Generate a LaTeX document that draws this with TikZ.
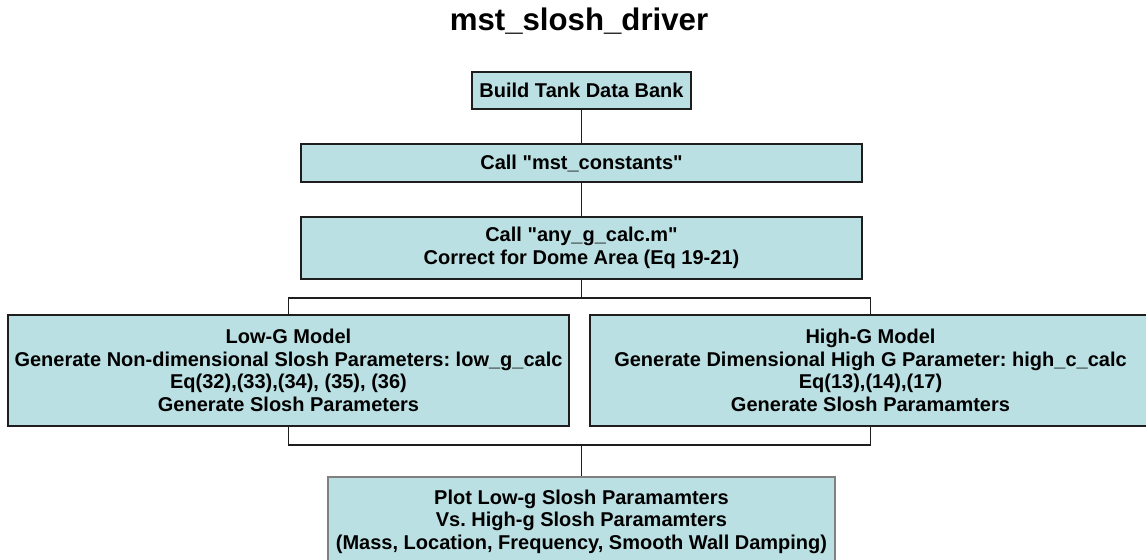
\documentclass[tikz,border=0pt]{standalone}
\usepackage{fontspec}
\setmainfont{Liberation Sans}[Ligatures=TeXOff]
\definecolor{boxfill}{RGB}{187,224,227}
\definecolor{boxline}{RGB}{30,30,30}
\definecolor{grayline}{RGB}{128,128,128}
\begin{document}
\frenchspacing
\begin{tikzpicture}[x=0.5pt,y=-0.5pt,
  procbox/.style={draw=boxline,line width=0.8pt,fill=boxfill,inner sep=0pt,align=center,
    font=\bfseries\fontsize{10}{11.25}\selectfont},
  conn/.style={draw=boxline,line width=0.7pt}]
\useasboundingbox (0,0) rectangle (1146,560);
\clip (0,0) rectangle (1146,560);
\node[font=\bfseries\fontsize{15.6}{18}\selectfont,anchor=base] (title) at (579,31) {mst\_slosh\_driver};
\node[procbox,minimum width=109.5pt,minimum height=18.5pt] (bank) at (581.5,90.5) {Build Tank Data Bank};
\node[procbox,minimum width=280.5pt,minimum height=19pt] (const) at (581.5,163) {Call "mst\_constants"};
\node[procbox,minimum width=280.5pt,minimum height=31pt] (anyg) at (581.5,248) {Call "any\_g\_calc.m"\\Correct for Dome Area (Eq 19-21)};
\node[procbox,minimum width=280.5pt,minimum height=55.5pt] (low) at (288.5,370.5) {Low-G Model\\Generate Non-dimensional Slosh Parameters: low\_g\_calc\\Eq(32),(33),(34), (35), (36)\\Generate Slosh Parameters};
\node[procbox,minimum width=280.5pt,minimum height=55.5pt] (high) at (870.5,370.5) {High-G Model\\Generate Dimensional High G Parameter: high\_c\_calc\\Eq(13),(14),(17)\\Generate Slosh Paramamters};
\node[procbox,draw=grayline,minimum width=253.5pt,minimum height=44.5pt] (plot) at (581.5,521.5) {Plot Low-g Slosh Paramamters\\Vs. High-g Slosh Paramamters\\(Mass, Location, Frequency, Smooth Wall Damping)};
\coordinate (split) at (581.5,298);
\coordinate (join) at (581.5,445);
\draw[conn] (bank.south) -- (const.north);
\draw[conn] (const.south) -- (anyg.north);
\draw[conn] (anyg.south) -- (split);
\draw[conn] (low.north) |- (split) -| (high.north);
\draw[conn] (low.south) |- (join) -| (high.south);
\draw[conn] (join) -- (plot.north);
\end{tikzpicture}
\end{document}
